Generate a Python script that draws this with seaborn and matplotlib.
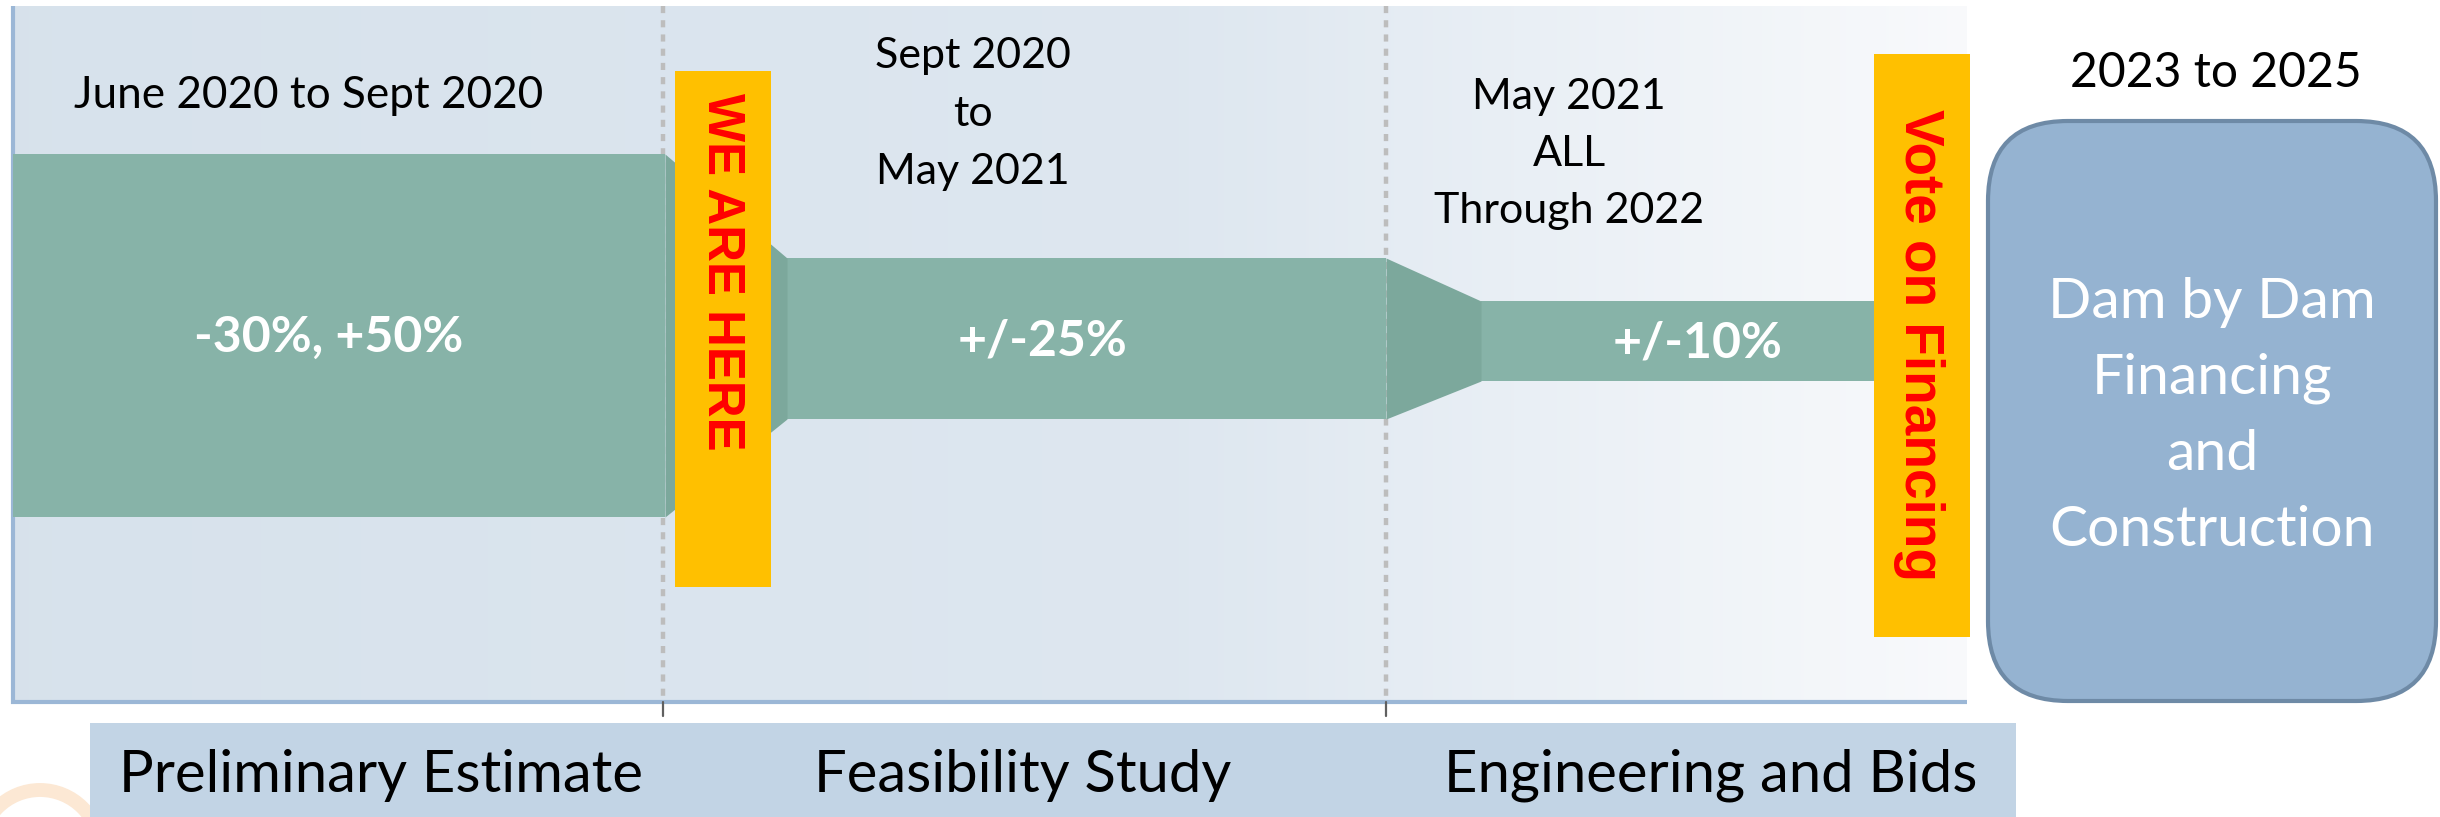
import numpy as np
import matplotlib
matplotlib.use("Agg")
import matplotlib.pyplot as plt
import seaborn as sns
from matplotlib.patches import Rectangle, FancyBboxPatch, Arc

# ---- data ----
phase_names = ["Preliminary Estimate", "Feasibility Study", "Engineering and Bids"]
phase_periods = ["June 2020 to Sept 2020", "Sept 2020\nto\nMay 2021", "May 2021\nALL\nThrough 2022"]
accuracy_labels = ["-30%, +50%", "+/-25%", "+/-10%"]
# timeline units (one unit = one pixel of the slide)
phase_bounds = [13, 663, 1386, 1967]
band_start = [13, 787, 1481]
band_end = [665, 1386, 1875]
band_top = [154, 258, 301]
band_bottom = [517, 419, 381]
milestones = ["WE ARE HERE", "Vote on Financing"]
final_period = "2023 to 2025"
final_stage = "Dam by Dam\nFinancing\nand\nConstruction"

W, H = 2440, 817
PT = 0.72  # px -> pt at dpi 100

sns.set_theme(style="white")
plt.rcParams['font.family'] = ['Lato', 'DejaVu Sans']

fig = plt.figure(figsize=(24.4, 8.17), dpi=100)
ax = fig.add_axes([0, 0, 1, 1])
ax.set_xlim(0, W)
ax.set_ylim(H, 0)
ax.axis('off')

# plot area background gradient (light blue fading to white)
x0, x1, y0, y1 = phase_bounds[0], phase_bounds[-1], 6, 702
t = np.linspace(0, 1, 600)
c_left = np.array([0.843, 0.886, 0.925])
c_mid = np.array([0.870, 0.906, 0.941])
c_right = np.array([0.975, 0.980, 0.988])
grad = np.where(t[:, None] < 0.6,
                c_left + (c_mid - c_left) * (t[:, None] / 0.6),
                c_mid + (c_right - c_mid) * ((t[:, None] - 0.6) / 0.4))
ax.imshow(grad[None, :, :], extent=[x0, x1, y1, y0], aspect='auto', zorder=0)

# axes lines
ax.plot([x0, x0], [y0, y1 + 2], color="#9BB7D6", lw=3, zorder=1, solid_capstyle='butt')
ax.plot([x0 - 2, x1], [y1, y1], color="#9BB7D6", lw=3, zorder=1, solid_capstyle='butt')

# phase dividers + ticks
for xb in phase_bounds[1:-1]:
    ax.plot([xb, xb], [y0, y1], color="#BDBDBD", lw=3.2, ls=(0, (1.6, 1.6)), zorder=1)
    ax.plot([xb, xb], [y1, y1 + 14], color="#606060", lw=1.6, zorder=1)

# accuracy bands
band_color = "#87B3A8"
conn_color = "#7CA89C"
for i in range(len(band_start)):
    ax.fill_between([band_start[i], band_end[i]], band_top[i], band_bottom[i],
                    color=band_color, lw=0, zorder=2)
    cy = (band_top[i] + band_bottom[i]) / 2
    cx = [329, 1043, 1698][i]
    ax.text(cx, cy + 2, accuracy_labels[i], ha='center', va='center', color='white',
            fontsize=50 * PT, fontweight='bold', zorder=5)
for i in range(len(band_start) - 1):
    ax.fill_between([band_end[i], band_start[i + 1]],
                    [band_top[i], band_top[i + 1]], [band_bottom[i], band_bottom[i + 1]],
                    color=conn_color, lw=0, zorder=2)

# period labels above bands
ax.text(309, 95, phase_periods[0], ha='center', va='center', fontsize=44 * PT, color='black', zorder=5)
for j, line in enumerate(phase_periods[1].split("\n")):
    ax.text(973, 56 + j * 58, line, ha='center', va='center', fontsize=43 * PT, color='black', zorder=5)
for j, line in enumerate(phase_periods[2].split("\n")):
    ax.text(1569, 97 + j * 57, line, ha='center', va='center', fontsize=43 * PT, color='black', zorder=5)

# milestone boxes
ax.add_patch(Rectangle((675, 71), 96, 516, color="#FFC000", lw=0, zorder=4))
ax.text(722, 272, milestones[0], rotation=270, ha='center', va='center', color='#FF0000',
        fontsize=51 * PT, fontweight='bold', family=['Liberation Sans', 'DejaVu Sans'], zorder=5)
ax.add_patch(Rectangle((1874, 54), 96, 583, color="#FFC000", lw=0, zorder=4))
ax.text(1919, 345, milestones[1], rotation=270, ha='center', va='center', color='#FF0000',
        fontsize=55 * PT, fontweight='bold', family=['Liberation Sans', 'DejaVu Sans'], zorder=5)

# final stage box
ax.add_patch(FancyBboxPatch((1988, 121), 448, 580,
                            boxstyle="round,pad=0,rounding_size=80",
                            facecolor="#95B3D1", edgecolor="#6E8AA6", lw=3, zorder=4))
ax.text(2216, 73, final_period, ha='center', va='center', fontsize=48 * PT, color='black', zorder=5)
for j, line in enumerate(final_stage.split("\n")):
    ax.text(2212, 302 + j * 76, line, ha='center', va='center', fontsize=57 * PT, color='white', zorder=5)

# phase name strip at the bottom
ax.add_patch(Rectangle((90, 723), 1926, 100, color="#C2D4E5", lw=0, zorder=1))
for name, cx in zip(phase_names, [381, 1023, 1711]):
    ax.text(cx, 775, name, ha='center', va='center', fontsize=58 * PT, color='black', zorder=5)

# faint logo fragment in the corner
ax.add_patch(Arc((40, 850), 120, 120, theta1=180, theta2=360, color="#FCE8D4", lw=10, zorder=0))

fig.savefig("out.png", dpi=100, facecolor='white')
